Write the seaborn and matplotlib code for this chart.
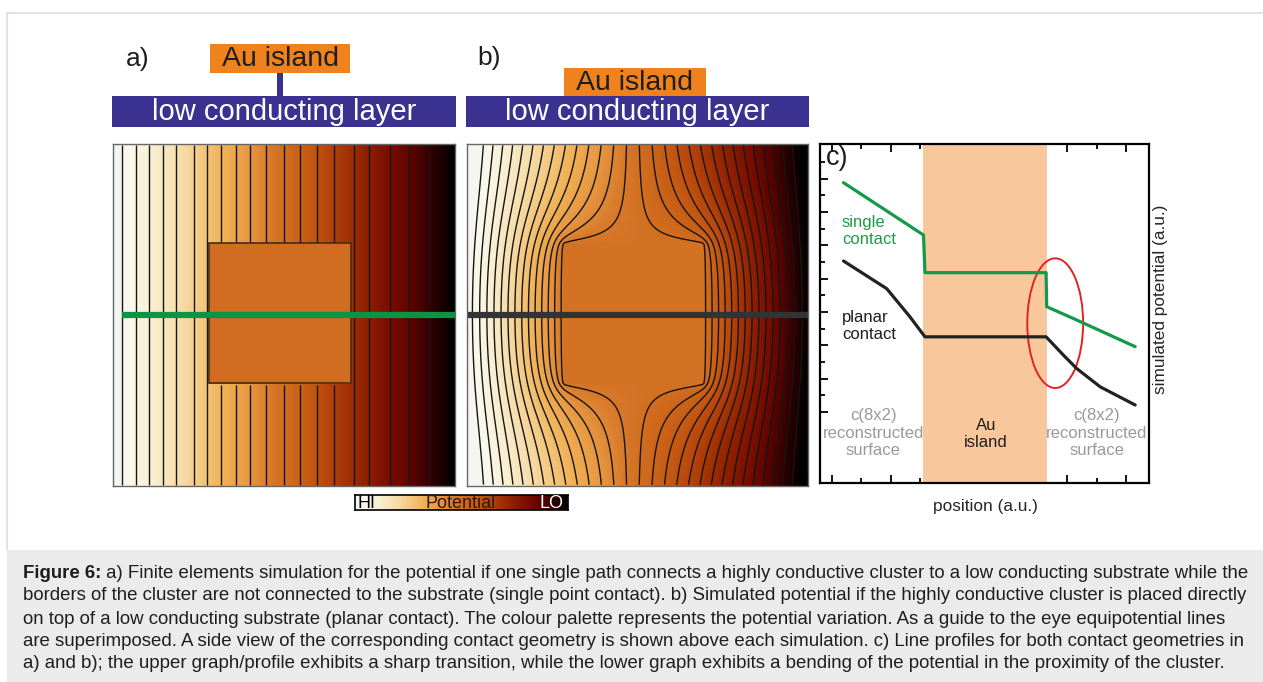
import numpy as np
import pandas as pd
import matplotlib
matplotlib.use("Agg")
import matplotlib.pyplot as plt
import seaborn as sns
from matplotlib.colors import LinearSegmentedColormap
from matplotlib.patches import Rectangle, Ellipse

# ------------------------------------------------------------------ data
# panel c : line profiles (position a.u., simulated potential a.u.)
single_pos = [1.39, 4.11, 4.16, 8.28, 8.30, 9.32, 11.31]
single_pot = [13.76, 10.62, 8.36, 8.36, 6.32, 5.52, 3.92]
planar_pos = [1.39, 2.86, 3.65, 4.16, 8.28, 8.87, 9.32, 10.12, 11.31]
planar_pot = [9.06, 7.40, 5.71, 4.51, 4.51, 3.41, 2.61, 1.51, 0.42]
island_span_c = [4.11, 8.30]
ellipse_center_c = [8.59, 5.33]
ellipse_size_c = [1.9, 7.78]

# panels a / b : geometry of the Au island (fraction of the map)
island_x = [0.28, 0.695]
island_y = [0.29, 0.70]
profile_y = 0.5
island_level_a = 0.50
# equipotential line positions in panel a (fraction of width)
levels_a = [0.025, 0.067, 0.104, 0.145, 0.185, 0.236, 0.275, 0.316, 0.361, 0.401,
            0.448, 0.499, 0.546, 0.597, 0.646, 0.704, 0.748, 0.809, 0.865, 0.924]
n_levels_b = 29

# colour palette HI -> LO
pot_stops = [0.00, 0.05, 0.12, 0.20, 0.27, 0.33, 0.40, 0.46, 0.52, 0.58, 0.64,
             0.70, 0.76, 0.82, 0.88, 0.94, 1.00]
pot_colors = ["#F4F4F2", "#FAF8EA", "#F8EDD0", "#F6DBA6", "#F3C478", "#F0AE52",
              "#E69640", "#D87A2A", "#CE681C", "#C45812", "#B4420A", "#9C2C02",
              "#881A00", "#760C00", "#560200", "#2A0000", "#000000"]

caption_lines = [
    " a) Finite elements simulation for the potential if one single path connects a highly conductive cluster to a low conducting substrate while the",
    "borders of the cluster are not connected to the substrate (single point contact). b) Simulated potential if the highly conductive cluster is placed directly",
    "on top of a low conducting substrate (planar contact). The colour palette represents the potential variation. As a guide to the eye equipotential lines",
    "are superimposed. A side view of the corresponding contact geometry is shown above each simulation. c) Line profiles for both contact geometries in",
    "a) and b); the upper graph/profile exhibits a sharp transition, while the lower graph exhibits a bending of the potential in the proximity of the cluster.",
]

# ------------------------------------------------------------------ style
sns.set_style("white")
plt.rcParams["font.family"] = ["Liberation Sans", "DejaVu Sans"]

W, H = 1263, 682
fig = plt.figure(figsize=(W / 100, H / 100), dpi=100)
fig.patch.set_facecolor("white")


def px_axes(x0, y0, x1, y1, **kw):
    return fig.add_axes([x0 / W, 1 - y1 / H, (x1 - x0) / W, (y1 - y0) / H], **kw)


cmap = LinearSegmentedColormap.from_list("pot", list(zip(pot_stops, pot_colors)))

# ------------------------------------------------------------------ fields
n = 131
g = (np.arange(n) + 0.5) / n
X, Y = np.meshgrid(g, g)
isl = (X >= island_x[0]) & (X <= island_x[1]) & (Y >= island_y[0]) & (Y <= island_y[1])


def relax(iters=2200, omega=1.95):
    """Finite-difference Laplace solve with a floating conductive island.
    The simulated region extends beyond the displayed window."""
    px, py = n // 10, n // 2
    gx = (np.arange(-px, n + px) + 0.5) / n
    gy = (np.arange(-py, n + py) + 0.5) / n
    XX, YY = np.meshgrid(gx, gy)
    isl2 = (XX >= island_x[0]) & (XX <= island_x[1]) & (YY >= island_y[0]) & (YY <= island_y[1])
    u = XX.copy()
    d = isl2.copy()
    d[1:, :] |= isl2[:-1, :]
    d[:-1, :] |= isl2[1:, :]
    d[:, 1:] |= isl2[:, :-1]
    d[:, :-1] |= isl2[:, 1:]
    ring_idx = np.flatnonzero(d & ~isl2)
    isl_idx = np.flatnonzero(isl2)
    I, J = np.indices(u.shape)
    inner = np.zeros(u.shape, bool)
    inner[1:-1, 1:-1] = True
    free = inner & ~isl2
    wts = [omega * (free & ((I + J) % 2 == 0)), omega * (free & ((I + J) % 2 == 1))]
    uf = u.reshape(-1)
    uf[isl_idx] = uf[ring_idx].mean()
    avg = u.copy()
    for _ in range(iters):
        for w in wts:
            avg[1:-1, 1:-1] = 0.25 * (u[:-2, 1:-1] + u[2:, 1:-1] + u[1:-1, :-2] + u[1:-1, 2:])
            u += w * (avg - u)
            u[0, :] = u[1, :]
            u[-1, :] = u[-2, :]
        uf[isl_idx] = uf[ring_idx].mean()
    v = u[py:py + n, px:px + n]
    lo, hi = v[:, 0].mean(), v[:, -1].mean()
    return (v - lo) / (hi - lo)


ua = X.copy()
ua[isl] = island_level_a
ub = relax()
cx = np.arange(n) + 0.5

# ------------------------------------------------------------------ background / frame
bg = fig.add_axes([0, 0, 1, 1])
bg.set_xlim(0, W)
bg.set_ylim(H, 0)
bg.axis("off")
bg.plot([7, W], [13, 13], color="#E3E3E3", lw=1.5)
bg.plot([7, 7], [13, 550], color="#E3E3E3", lw=1.5)
bg.add_patch(Rectangle((7, 550), W - 7, H - 550, color="#EBEBEB", lw=0))

# schematic side views
orange = "#F0821E"
blue = "#3B3190"
bg.add_patch(Rectangle((112, 96), 344, 31, color=blue, lw=0))
bg.add_patch(Rectangle((466, 96), 343, 31, color=blue, lw=0))
bg.add_patch(Rectangle((210, 44), 140, 29, color=orange, lw=0))
bg.add_patch(Rectangle((277, 73), 6, 23, color=blue, lw=0))
bg.add_patch(Rectangle((564, 68), 142, 28, color=orange, lw=0))
bg.text(284, 111.5, "low conducting layer", color="white", fontsize=21, ha="center", va="center")
bg.text(637, 111.5, "low conducting layer", color="white", fontsize=21, ha="center", va="center")
bg.text(281, 59, "Au island", color="#1E1E1E", fontsize=20.5, ha="center", va="center")
bg.text(635, 83, "Au island", color="#1E1E1E", fontsize=20.5, ha="center", va="center")
bg.text(138, 59, "a)", color="#1E1E1E", fontsize=19, ha="center", va="center")
bg.text(489, 58, "b)", color="#1E1E1E", fontsize=19, ha="center", va="center")

# ------------------------------------------------------------------ panel a
axa = px_axes(113, 144, 455, 486)
sns.heatmap(ua, cmap=cmap, vmin=0, vmax=1, cbar=False, xticklabels=False,
            yticklabels=False, ax=axa)
axa.contour(cx, cx, np.ma.masked_where(isl, X), levels=levels_a,
            colors="#151515", linewidths=1.0)
axa.add_patch(Rectangle((island_x[0] * n, island_y[0] * n),
                        (island_x[1] - island_x[0]) * n, (island_y[1] - island_y[0]) * n,
                        fill=False, ec="#4A2C10", lw=1.2))
axa.plot([levels_a[0] * n, n], [profile_y * n] * 2, color="#0B9444", lw=4.5,
         solid_capstyle="butt")

# ------------------------------------------------------------------ panel b
axb = px_axes(467, 144, 808, 486)
sns.heatmap(ub, cmap=cmap, vmin=0, vmax=1, cbar=False, xticklabels=False,
            yticklabels=False, ax=axb)
axb.contour(cx, cx, ub, levels=np.linspace(0, 1, n_levels_b + 2)[1:-1],
            colors="#151515", linewidths=1.0)
axb.plot([0, n], [profile_y * n] * 2, color="#333333", lw=4.5, solid_capstyle="butt")

for ax in (axa, axb):
    for sp in ax.spines.values():
        sp.set_visible(True)
        sp.set_color("#666666")
        sp.set_linewidth(1.0)

# ------------------------------------------------------------------ colour bar
axcb = px_axes(355, 495, 568, 510)
sns.heatmap(np.linspace(0, 1, 256)[None, :], cmap=cmap, vmin=0, vmax=1, cbar=False,
            xticklabels=False, yticklabels=False, ax=axcb)
for sp in axcb.spines.values():
    sp.set_visible(True)
    sp.set_color("black")
    sp.set_linewidth(1.2)
axcb.text(0.012, 0.45, "HI", transform=axcb.transAxes, fontsize=13, ha="left", va="center", color="black")
axcb.text(0.498, 0.45, "Potential", transform=axcb.transAxes, fontsize=13, ha="center", va="center", color="#2A1A0A")
axcb.text(0.978, 0.45, "LO", transform=axcb.transAxes, fontsize=13, ha="right", va="center", color="white")

# ------------------------------------------------------------------ panel c
axc = px_axes(820, 144, 1149, 483)
axc.axvspan(island_span_c[0], island_span_c[1], color="#F8C89C", lw=0)
df_s = pd.DataFrame({"position": single_pos, "potential": single_pot})
df_p = pd.DataFrame({"position": planar_pos, "potential": planar_pot})
sns.lineplot(data=df_s, x="position", y="potential", color="#139A48", lw=2.3,
             sort=False, estimator=None, ax=axc)
sns.lineplot(data=df_p, x="position", y="potential", color="#222222", lw=2.3,
             sort=False, estimator=None, ax=axc)
axc.add_patch(Ellipse(ellipse_center_c, ellipse_size_c[0], ellipse_size_c[1],
                      fill=False, ec="#E02424", lw=1.4))
axc.set_xlim(0.59, 11.78)
axc.set_ylim(-4.26, 16.08)
axc.set_xlabel("")
axc.set_ylabel("")
axc.set_xticks([1, 3, 5, 7, 9, 11])
axc.set_xticks([2, 4, 6, 8, 10], minor=True)
axc.set_yticks(list(range(0, 15, 2)))
axc.set_yticks(list(range(1, 16, 2)), minor=True)
axc.tick_params(which="both", direction="in", bottom=True, top=True, left=True,
                right=False, labelbottom=False, labelleft=False, width=1.3,
                color="black")
axc.tick_params(which="major", length=6)
axc.tick_params(which="minor", length=3.5)
for sp in axc.spines.values():
    sp.set_color("black")
    sp.set_linewidth(1.6)

txt_kw = dict(fontsize=12, linespacing=1.22)
axc.text(0.80, 15.24, "c)", fontsize=19.5, ha="left", va="center", color="#1E1E1E")
axc.text(1.33, 10.87, "single\ncontact", color="#1E9A46", ha="left", va="center", **txt_kw)
axc.text(1.33, 5.17, "planar\ncontact", color="#1E1E1E", ha="left", va="center", **txt_kw)
axc.text(2.41, -1.28, "c(8x2)\nreconstructed\nsurface", color="#9A9A9A", ha="center", va="center", **txt_kw)
axc.text(10.0, -1.28, "c(8x2)\nreconstructed\nsurface", color="#9A9A9A", ha="center", va="center", **txt_kw)
axc.text(6.23, -1.33, "Au\nisland", color="#1E1E1E", ha="center", va="center", **txt_kw)
axc.text((1160 - 820) / 329, (483 - 299) / 339, "simulated potential (a.u.)",
         transform=axc.transAxes, rotation=90, fontsize=12.4, ha="center", va="center")
axc.text((985.8 - 820) / 329, (483 - 507) / 339, "position (a.u.)",
         transform=axc.transAxes, fontsize=12.4, ha="center", va="center")

# ------------------------------------------------------------------ caption
cap_fs = 13.4
cap_y = [573, 596, 619, 641, 663]
renderer = fig.canvas.get_renderer()
t0 = fig.text(22.7 / W, 1 - cap_y[0] / H, "Figure 6:", fontsize=cap_fs, weight="bold",
              va="center", ha="left", color="#1E1E1E")
bb = t0.get_window_extent(renderer=renderer)
fig.text(bb.x1 / W, 1 - cap_y[0] / H, caption_lines[0], fontsize=cap_fs, va="center",
         ha="left", color="#1E1E1E")
for yy, line in zip(cap_y[1:], caption_lines[1:]):
    fig.text(22.7 / W, 1 - yy / H, line, fontsize=cap_fs, va="center", ha="left",
             color="#1E1E1E")

fig.savefig("out.png", dpi=100)
